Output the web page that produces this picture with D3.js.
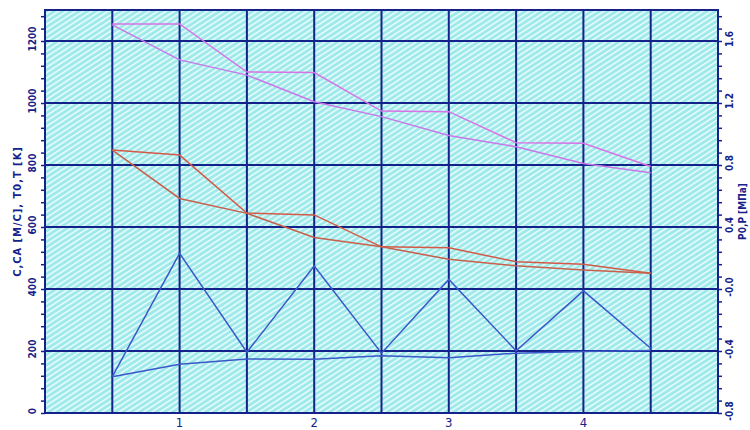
<!DOCTYPE html>
<html><head><meta charset="utf-8">
<script src="https://cdn.jsdelivr.net/npm/d3@7"></script>
<style>body{margin:0;background:#fff}svg{display:block}</style>
</head><body>
<script>
const xs = [0.5, 1, 1.5, 2, 2.5, 3, 3.5, 4, 4.5];
const T0 = [1255, 1255, 1100, 1098, 974, 972, 872, 870, 795];
const T  = [1252, 1139, 1090, 1004, 956, 895, 859, 805, 775];
const P0 = [848, 832, 645, 639, 536, 533, 488, 480, 451];
const P  = [848, 692, 644, 566, 536, 496, 475, 461, 451];
const CA = [117, 515, 196, 474, 193, 431, 201, 394, 209];
const C  = [117, 157, 174, 173, 185, 178, 193, 198, 202];
const leftTicks = [0, 200, 400, 600, 800, 1000, 1200];
const rightTicks = [-0.8, -0.4, 0.0, 0.4, 0.8, 1.2, 1.6];
const rightLabels = ["-0.8", "-0.4", "-0.0", "0.4", "0.8", "1.2", "1.6"];
const xTicks = [1, 2, 3, 4];
const leftTitle = "C,CA [M/C], T0,T [K]";
const rightTitle = "P0,P [MПa]";

const W = 750, H = 430;
const m = {l: 45, r: 718, t: 10, b: 413};
const navy = "#14228a";
const svg = d3.select("body").append("svg").attr("width", W).attr("height", H);

const x = d3.scaleLinear().domain([0, 5]).range([m.l, m.r]);
const y = d3.scaleLinear().domain([0, 1300]).range([m.b, m.t]);
const y2 = d3.scaleLinear().domain([-0.8, 1.8]).range([m.b, m.t]);

const defs = svg.append("defs");
const pat = defs.append("pattern").attr("id", "hatch").attr("patternUnits", "userSpaceOnUse")
  .attr("width", 4.5).attr("height", 4.5).attr("patternTransform", "rotate(-33)");
pat.append("rect").attr("width", 4.5).attr("height", 4.5).attr("fill", "#9fe9ea");
pat.append("rect").attr("width", 4.5).attr("height", 1.5).attr("fill", "#ecfdfd");

svg.append("rect").attr("x", m.l).attr("y", m.t).attr("width", m.r - m.l).attr("height", m.b - m.t)
  .attr("fill", "url(#hatch)");

// grid
const g = svg.append("g").attr("stroke", navy).attr("stroke-width", 2);
d3.range(0.5, 5, 0.5).forEach(v => g.append("line").attr("x1", x(v)).attr("x2", x(v)).attr("y1", m.t).attr("y2", m.b));
leftTicks.filter(v => v > 0).forEach(v => g.append("line").attr("x1", m.l).attr("x2", m.r).attr("y1", y(v)).attr("y2", y(v)));
svg.append("rect").attr("x", m.l).attr("y", m.t).attr("width", m.r - m.l).attr("height", m.b - m.t)
  .attr("fill", "none").attr("stroke", navy).attr("stroke-width", 2);

// axes (minor ticks)
const minor = d3.range(0, 1281, 40);
const la = svg.append("g").attr("transform", `translate(${m.l},0)`)
  .call(d3.axisLeft(y).tickValues(minor).tickSize(4).tickFormat(""));
la.select(".domain").remove();
la.selectAll("line").attr("stroke", navy).attr("stroke-width", 1.5);
const ra = svg.append("g").attr("transform", `translate(${m.r},0)`)
  .call(d3.axisRight(y2).tickValues(minor.map(v => y2.invert(y(v)))).tickSize(4).tickFormat(""));
ra.select(".domain").remove();
ra.selectAll("line").attr("stroke", navy).attr("stroke-width", 1.5);

const font = "'DejaVu Sans Condensed', 'DejaVu Sans', sans-serif";
leftTicks.forEach(v => {
  svg.append("text").attr("transform", `translate(36,${y(v) - 2}) rotate(-90)`)
    .attr("text-anchor", "middle").attr("font-family", font).attr("font-size", 10)
    .attr("font-weight", "bold").attr("fill", navy).text(v);
});
rightTicks.forEach((v, i) => {
  svg.append("text").attr("transform", `translate(733,${y2(v) - 2}) rotate(-90)`)
    .attr("text-anchor", "middle").attr("font-family", font).attr("font-size", 10)
    .attr("font-weight", "bold").attr("fill", navy).text(rightLabels[i]);
});
xTicks.forEach(v => {
  svg.append("text").attr("x", x(v)).attr("y", 427).attr("text-anchor", "middle")
    .attr("font-family", font).attr("font-size", 13).attr("fill", navy).text(v);
});
svg.append("text").attr("transform", `translate(21,${(m.t + m.b) / 2}) rotate(-90)`)
  .attr("text-anchor", "middle").attr("font-family", font).attr("font-size", 11)
  .attr("letter-spacing", 1).attr("font-weight", "bold").attr("fill", navy).text(leftTitle);
svg.append("text").attr("transform", `translate(746,${(m.t + m.b) / 2}) rotate(-90)`)
  .attr("text-anchor", "middle").attr("font-family", font).attr("font-size", 10)
  .attr("font-weight", "bold").attr("fill", navy).text(rightTitle);

// series
const line = d3.line().x((d, i) => x(xs[i])).y(d => y(d));
const series = [
  {v: T0, c: "#d873e6"}, {v: T, c: "#c878e8"},
  {v: P0, c: "#d45a48"}, {v: P, c: "#c8604c"},
  {v: CA, c: "#3a58c8"}, {v: C, c: "#3a58c8"}
];
series.forEach(s => svg.append("path").datum(s.v).attr("d", line)
  .attr("fill", "none").attr("stroke", s.c).attr("stroke-width", 1.5));
</script>
</body></html>
